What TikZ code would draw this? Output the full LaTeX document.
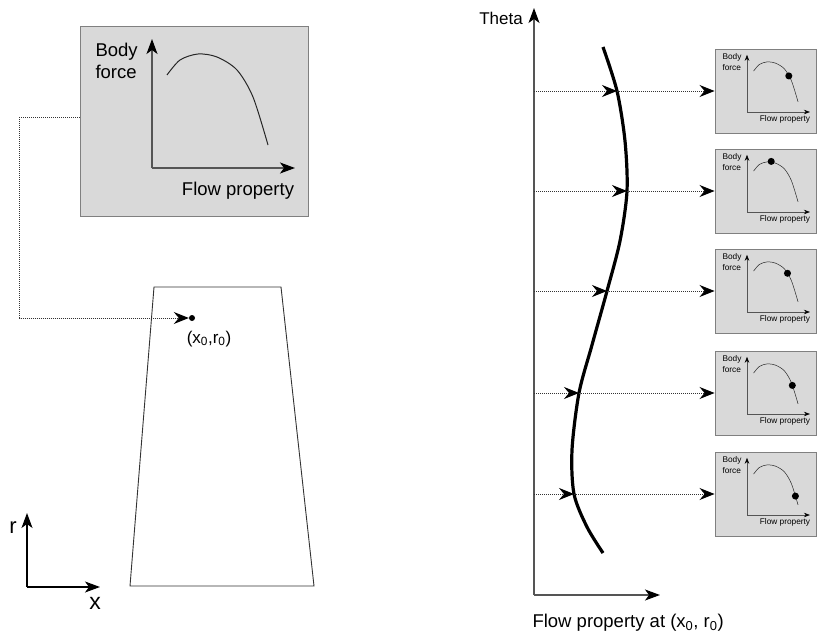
\documentclass[tikz,border=0pt]{standalone}
\usepackage{fontspec}
\setmainfont{Liberation Sans}
\usetikzlibrary{arrows.meta}
\definecolor{panelgray}{HTML}{D9D9D9}
\definecolor{framegray}{HTML}{808080}
\definecolor{axisgray}{HTML}{555555}
\begin{document}
\begin{tikzpicture}[x=1pt, y=-1pt, every node/.style={font=\fontsize{18.5}{22}\selectfont}]
\tikzset{
  panel/.style={draw=framegray, fill=panelgray, line width=0.9pt, inner sep=0pt},
  axis/.style={draw=axisgray, line width=1.2pt, -{Stealth[length=15pt,width=11pt,inset=4pt,fill=black,color=black]}},
  smallaxis/.style={draw=axisgray, line width=0.6pt, -{Stealth[length=6pt,width=4.5pt,inset=2pt,fill=black,color=black]}},
  flowline/.style={draw=black!80, line width=1pt, densely dotted, -{Stealth[length=15pt,width=12pt,inset=5pt,fill=black,color=black]}},
  tinylabel/.style={font=\fontsize{8.3}{11}\selectfont},
  bfcurve/.style={line width=1pt, black!85},
}
\useasboundingbox (0,0) rectangle (817,637);

% body force chart at one point
\node[panel, minimum width=228pt, minimum height=190pt] (chart) at (194,121) {};
\begin{scope}[shift={(152,168)}]
  \draw[axis] (0,0) -- (0,-129);
  \draw[axis] (0,0) -- (143,0);
  \draw[bfcurve] plot[smooth] coordinates {(15,-93) (28,-108) (46,-114) (65,-111) (85,-98) (101,-71) (116,-23)};
\end{scope}
\node[anchor=west, align=left] (bflabel) at (92,61) {Body\\force};
\node (fplabel) at (238,191) {Flow property};

% the blade passage
\draw[line width=0.9pt, black!80] (154,287) -- (281,287) -- (314,586) -- (130,586) -- cycle;
\node[circle, fill=black, inner sep=0pt, minimum size=6pt] (pt) at (192,318) {};
\node[font=\fontsize{17}{20}\selectfont] (ptlabel) at (209,339) {(x\textsubscript{0},r\textsubscript{0})};
\draw[flowline] ([yshift=4pt]chart.west) -- ++(-60,0) |- (pt);

% r-x axes
\coordinate (rxo) at (27,587);
\draw[axis, draw=black] (rxo) -- (27,513);
\draw[axis, draw=black] (rxo) -- (100,587);
\node[font=\fontsize{22}{24}\selectfont] (rlabel) at (13,528) {r};
\node[font=\fontsize{23}{24}\selectfont] (xlabel) at (95,603) {x};

% theta distribution
\coordinate (to) at (534,595);
\draw[axis] (to) -- (534,8);
\draw[axis] (to) -- (660,595);
\node[font=\fontsize{17}{20}\selectfont] (thetalabel) at (501,18) {Theta};
\node[anchor=west] (fpat) at (529,623) {Flow property at (x\textsubscript{0}, r\textsubscript{0})};

\coordinate (c1) at (617,91);
\coordinate (c2) at (627,191);
\coordinate (c3) at (607,291);
\coordinate (c4) at (579,393);
\coordinate (c5) at (574,494);
\draw[line width=3.2pt, black] plot[smooth] coordinates {(603,47) (c1) (625,141) (c2) (620,241) (c3) (592,345) (c4) (572,450) (c5) (587,527) (603,553)};

\foreach \i/\row/\dx/\dy in {1/91/95/-82, 2/191/55/-115, 3/291/92/-88, 4/393/103/-65, 5/494/110/-43} {
  \coordinate (a\i) at (534,\row);
  \node[panel, minimum width=101pt, minimum height=84pt] (bf\i) at (765.5,\row) {};
  \begin{scope}[shift={(747,\row+21)}, scale=0.44]
    \draw[smallaxis] (0,0) -- (0,-130);
    \draw[smallaxis] (0,0) -- (143,0);
    \draw[line width=0.5pt, black!85] plot[smooth] coordinates {(15,-93) (28,-108) (46,-114) (65,-111) (85,-98) (101,-71) (116,-23)};
    \fill (\dx,\dy) circle[radius=8];
  \end{scope}
  \node[tinylabel, anchor=west, align=left] (bfy\i) at (719,\row-29) {Body\\force};
  \node[tinylabel] (bfx\i) at (785,\row+28) {Flow property};
  \draw[flowline] (a\i) -- (c\i);
  \draw[flowline] (c\i) -- (bf\i);
}
\end{tikzpicture}
\end{document}
